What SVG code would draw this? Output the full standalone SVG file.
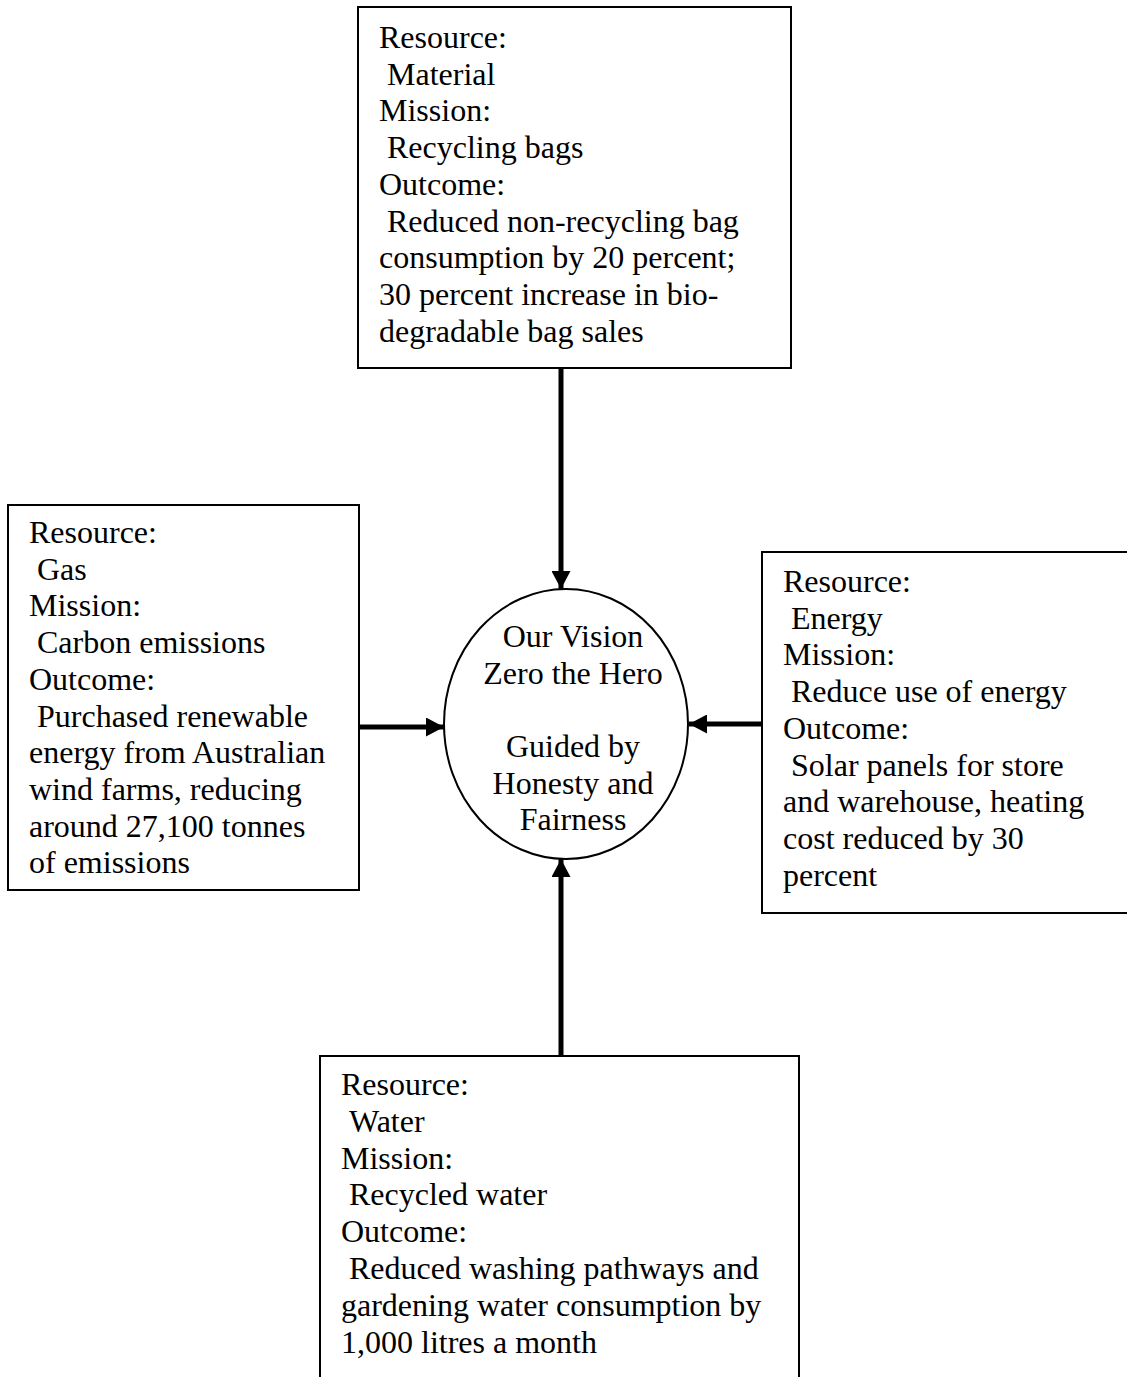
<svg xmlns="http://www.w3.org/2000/svg" width="1127" height="1377" viewBox="0 0 1127 1377">
  <style>
    .box { fill: #fff; stroke: #000; stroke-width: 2; }
    .hub { fill: #fff; stroke: #000; stroke-width: 2; }
    .t { font-family: "Liberation Serif", "Times New Roman", serif; font-size: 32px; fill: #000; }
    .c { text-anchor: middle; }
    .wire { stroke: #000; stroke-width: 5; fill: none; }
  </style>
  <defs>
    <marker id="head" markerUnits="userSpaceOnUse" markerWidth="19" markerHeight="19" viewBox="0 0 19 19" refX="18" refY="9.5" orient="auto">
      <path d="M0,0 L18,9.5 L0,19 Z" fill="#000"/>
    </marker>
  </defs>
  <rect width="1127" height="1377" fill="#fff"/>

  <!-- Material -->
  <g id="node-material">
    <rect class="box" x="358" y="7" width="433" height="361"/>
    <text class="t" x="379" y="48">Resource:</text>
    <text class="t" x="387" y="84.7">Material</text>
    <text class="t" x="379" y="121.4">Mission:</text>
    <text class="t" x="387" y="158.1">Recycling bags</text>
    <text class="t" x="379" y="194.8">Outcome:</text>
    <text class="t" x="387" y="231.5">Reduced non-recycling bag</text>
    <text class="t" x="379" y="268.2">consumption by 20 percent;</text>
    <text class="t" x="379" y="304.9">30 percent increase in bio-</text>
    <text class="t" x="379" y="341.6">degradable bag sales</text>
  </g>

  <!-- Gas -->
  <g id="node-gas">
    <rect class="box" x="8" y="505" width="351" height="385"/>
    <text class="t" x="29" y="543">Resource:</text>
    <text class="t" x="37" y="579.7">Gas</text>
    <text class="t" x="29" y="616.4">Mission:</text>
    <text class="t" x="37" y="653.1">Carbon emissions</text>
    <text class="t" x="29" y="689.8">Outcome:</text>
    <text class="t" x="37" y="726.5">Purchased renewable</text>
    <text class="t" x="29" y="763.2">energy from Australian</text>
    <text class="t" x="29" y="799.9">wind farms, reducing</text>
    <text class="t" x="29" y="836.6">around 27,100 tonnes</text>
    <text class="t" x="29" y="873.3">of emissions</text>
  </g>

  <!-- Energy -->
  <g id="node-energy">
    <rect class="box" x="762" y="552" width="380" height="361"/>
    <text class="t" x="783" y="592">Resource:</text>
    <text class="t" x="791" y="628.7">Energy</text>
    <text class="t" x="783" y="665.4">Mission:</text>
    <text class="t" x="791" y="702.1">Reduce use of energy</text>
    <text class="t" x="783" y="738.8">Outcome:</text>
    <text class="t" x="791" y="775.5">Solar panels for store</text>
    <text class="t" x="783" y="812.2">and warehouse, heating</text>
    <text class="t" x="783" y="848.9">cost reduced by 30</text>
    <text class="t" x="783" y="885.6">percent</text>
  </g>

  <!-- Water -->
  <g id="node-water">
    <rect class="box" x="320" y="1056" width="479" height="340"/>
    <text class="t" x="341" y="1095">Resource:</text>
    <text class="t" x="349" y="1131.8">Water</text>
    <text class="t" x="341" y="1168.6">Mission:</text>
    <text class="t" x="349" y="1205.4">Recycled water</text>
    <text class="t" x="341" y="1242.2">Outcome:</text>
    <text class="t" x="349" y="1279">Reduced washing pathways and</text>
    <text class="t" x="341" y="1315.8">gardening water consumption by</text>
    <text class="t" x="341" y="1352.6">1,000 litres a month</text>
  </g>

  <!-- Vision hub -->
  <g id="node-vision">
    <ellipse class="hub" cx="566" cy="724" rx="122" ry="135"/>
    <text class="t c" x="573" y="647">Our Vision</text>
    <text class="t c" x="573" y="683.7">Zero the Hero</text>
    <text class="t c" x="573" y="757">Guided by</text>
    <text class="t c" x="573" y="793.7">Honesty and</text>
    <text class="t c" x="573" y="830.4">Fairness</text>
  </g>

  <!-- Connectors -->
  <g id="connectors">
    <line class="wire" x1="561" y1="368" x2="561" y2="589" marker-end="url(#head)"/>
    <line class="wire" x1="359" y1="727" x2="444" y2="727" marker-end="url(#head)"/>
    <line class="wire" x1="762" y1="724" x2="689" y2="724" marker-end="url(#head)"/>
    <line class="wire" x1="561" y1="1056" x2="561" y2="859" marker-end="url(#head)"/>
  </g>
</svg>
